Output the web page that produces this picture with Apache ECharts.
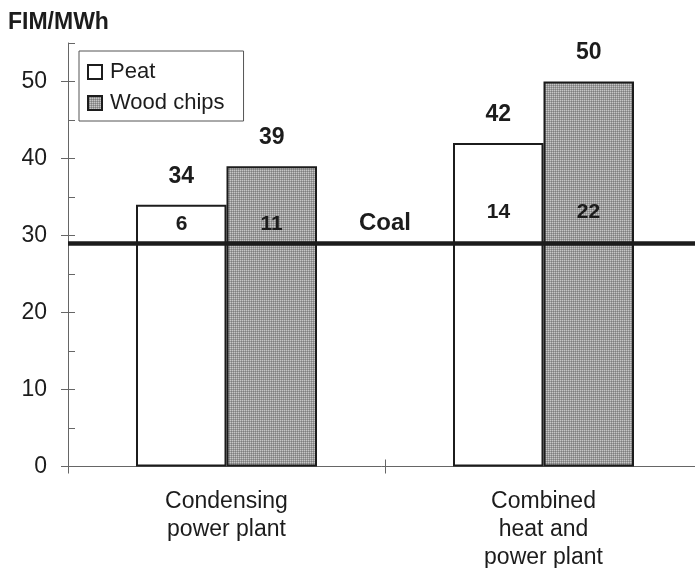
<!DOCTYPE html>
<html>
<head>
<meta charset="utf-8">
<script src="https://cdn.jsdelivr.net/npm/echarts@6/dist/echarts.min.js"></script>
<style>
  html, body { margin: 0; padding: 0; background: #fff; }
  #chart { width: 695px; height: 568px; }
</style>
</head>
<body>
<div id="chart"></div>
<script>
// Fuel cost per MWh for two plant types, compared with coal
const categories = ['Condensing\npower plant', 'Combined\nheat and\npower plant'];
const peat = [34, 42];
const woodChips = [39, 50];
const peatOverCoal = [6, 14];
const woodOverCoal = [11, 22];
const coalLevel = 29;
const yTickValues = [0, 10, 20, 30, 40, 50];

const FONT = '"Liberation Sans", Arial, Helvetica, sans-serif';
const INK = '#1c1c1c';
const AXIS = '#666';

// fine grey screen-dot fill for the wood chips bars
function halftone() {
  const c = document.createElement('canvas');
  c.width = 2; c.height = 2;
  const g = c.getContext('2d');
  g.fillStyle = '#c6c6c6'; g.fillRect(0, 0, 1, 1);
  g.fillStyle = '#9c9c9c'; g.fillRect(1, 0, 1, 1);
  g.fillStyle = '#9c9c9c'; g.fillRect(0, 1, 1, 1);
  g.fillStyle = '#7e7e7e'; g.fillRect(1, 1, 1, 1);
  return { image: c, repeat: 'repeat' };
}

// height (in axis units) at which the "above coal" numbers sit inside each bar pair
const diffLabelLevel = [31.5, 33];

const chart = echarts.init(document.getElementById('chart'), null, { renderer: 'canvas' });

const barLabel = {
  show: true,
  position: 'top',
  distance: 17,
  fontFamily: FONT,
  fontSize: 23,
  fontWeight: 'bold',
  color: INK
};

function diffSeries(values, dx) {
  return {
    type: 'scatter',
    xAxisIndex: 0,
    yAxisIndex: 0,
    symbolSize: 1,
    silent: true,
    z: 6,
    itemStyle: { opacity: 0 },
    data: values.map((v, i) => ({ value: [i, diffLabelLevel[i]], label: { formatter: String(v) } })),
    label: {
      show: true,
      position: 'inside',
      offset: [dx, 0],
      opacity: 1,
      textBorderWidth: 0,
      fontFamily: FONT,
      fontSize: 21,
      fontWeight: 'bold',
      color: INK
    },
    emphasis: { disabled: true }
  };
}

const option = {
  backgroundColor: '#fff',
  animation: false,
  textStyle: { fontFamily: FONT },
  title: {
    text: 'FIM/MWh',
    left: 3,
    top: 6,
    textStyle: { fontFamily: FONT, fontSize: 23, fontWeight: 'bold', color: INK }
  },
  legend: {
    data: ['Peat', 'Wood chips'],
    orient: 'vertical',
    left: 79,
    top: 51,
    padding: [10, 19, 7, 8],
    itemGap: 9,
    itemWidth: 14,
    itemHeight: 14,
    icon: 'rect',
    borderColor: '#555',
    borderWidth: 1,
    selectedMode: false,
    textStyle: { fontFamily: FONT, fontSize: 22, color: INK, padding: [0, 0, 0, 3] }
  },
  grid: {
    left: 68,
    top: 43,
    bottom: 101.5,
    width: 634,
    outerBoundsMode: 'none',
    containLabel: false
  },
  xAxis: [
    {
      type: 'category',
      data: categories,
      boundaryGap: true,
      axisLine: { show: true, lineStyle: { color: AXIS, width: 1 } },
      axisTick: { show: true, inside: false, length: 7, lineStyle: { color: AXIS } },
      axisLabel: {
        interval: 0,
        margin: 21,
        fontFamily: FONT,
        fontSize: 23,
        lineHeight: 28,
        color: INK
      },
      splitLine: { show: false }
    },
    {
      type: 'category',
      data: categories,
      position: 'bottom',
      boundaryGap: true,
      axisLine: { show: false },
      axisTick: { show: true, inside: true, length: 7, lineStyle: { color: AXIS } },
      axisLabel: { show: false },
      splitLine: { show: false }
    }
  ],
  yAxis: [
    {
      type: 'value',
      min: 0,
      max: 55,
      interval: 5,
      axisLine: { show: true, lineStyle: { color: AXIS, width: 1 } },
      axisTick: { show: true, inside: false, length: 7, customValues: yTickValues, lineStyle: { color: AXIS } },
      axisLabel: {
        customValues: yTickValues,
        margin: 21,
        fontFamily: FONT,
        fontSize: 23,
        color: INK
      },
      splitLine: { show: false }
    },
    {
      type: 'value',
      position: 'left',
      min: 0,
      max: 55,
      interval: 5,
      axisLine: { show: false },
      axisTick: { show: true, inside: true, length: 7, lineStyle: { color: AXIS } },
      axisLabel: { show: false },
      splitLine: { show: false }
    }
  ],
  series: [
    {
      name: 'Peat',
      type: 'bar',
      xAxisIndex: 0,
      yAxisIndex: 0,
      data: peat,
      barWidth: 90.5,
      barGap: '0%',
      itemStyle: { color: '#fff', borderColor: INK, borderWidth: 2 },
      label: barLabel
    },
    {
      name: 'Wood chips',
      type: 'bar',
      xAxisIndex: 0,
      yAxisIndex: 0,
      data: woodChips,
      barWidth: 90.5,
      barGap: '0%',
      itemStyle: { color: halftone(), borderColor: INK, borderWidth: 2 },
      label: barLabel,
      markLine: {
        silent: true,
        symbol: 'none',
        z: 8,
        lineStyle: { color: INK, width: 4.5, type: 'solid' },
        label: {
          show: true,
          formatter: 'Coal',
          position: 'insideMiddleTop',
          distance: 8,
          fontFamily: FONT,
          fontSize: 24,
          fontWeight: 'bold',
          color: INK
        },
        data: [{ yAxis: coalLevel }]
      }
    },
    diffSeries(peatOverCoal, -45),
    diffSeries(woodOverCoal, 45)
  ]
};

chart.setOption(option);
</script>
</body>
</html>
